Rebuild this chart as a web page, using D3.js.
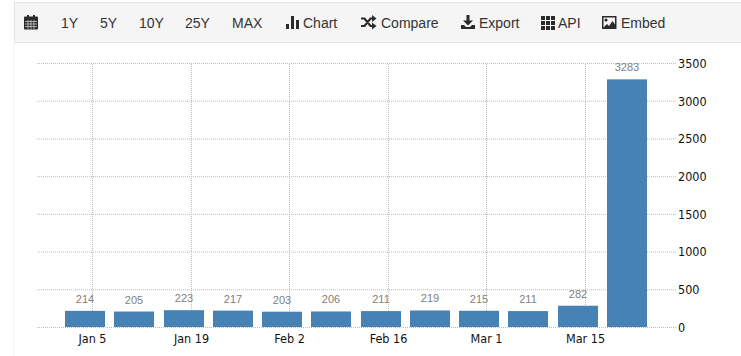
<!DOCTYPE html>
<html>
<head>
<meta charset="utf-8">
<style>
html, body { margin: 0; padding: 0; background: #fff; overflow: hidden; }
svg { display: block; }
text { font-family: "Liberation Sans", Arial, sans-serif; }
.menu text { font-size: 14px; fill: #333; }
.axis text { font-size: 12.5px; fill: #111; font-family: "DejaVu Sans Condensed", "Liberation Sans", sans-serif; }
.axis path { display: none; }
.axis line { stroke: #bdbdbd; stroke-dasharray: 1 1; }
.bar { fill: #4682b4; }
.value { font-size: 11px; fill: #808080; text-anchor: middle; }
</style>
</head>
<body>
<svg id="chart" width="741" height="356"></svg>
<script src="https://d3js.org/d3.v7.min.js"></script>
<script>
let dates = ["2020-01-04", "2020-01-11", "2020-01-18", "2020-01-25", "2020-02-01", "2020-02-08",
    "2020-02-15", "2020-02-22", "2020-02-29", "2020-03-07", "2020-03-14", "2020-03-21"];
let values = [214, 205, 223, 217, 203, 206, 211, 219, 215, 211, 282, 3283];
let xTicks = ["2020-01-05", "2020-01-19", "2020-02-02", "2020-02-16", "2020-03-01", "2020-03-15"];
let yTicks = [0, 500, 1000, 1500, 2000, 2500, 3000, 3500];
let menuLabels = ["1Y", "5Y", "10Y", "25Y", "MAX", "Chart", "Compare", "Export", "API", "Embed"];
let menuX = [61, 100, 139, 185, 232, 303, 381, 479, 558, 621];

let parse = d3.utcParse("%Y-%m-%d");
let svg = d3.select("#chart");

// page edge and toolbar
svg.append("line").attr("x1", 13.5).attr("x2", 13.5).attr("y1", 43).attr("y2", 356).attr("stroke", "#f4f4f4");
svg.append("rect").attr("x", 14.5).attr("y", 2.5).attr("width", 730).attr("height", 40)
    .attr("fill", "#f5f5f5").attr("stroke", "#e3e3e3");

let menu = svg.append("g").attr("class", "menu");
menu.selectAll("text")
    .data(menuLabels)
    .join("text")
    .attr("x", (d, i) => menuX[i])
    .attr("y", 28)
    .text(d => d);

// toolbar icons
let ink = "#2b2b2b";
let calendar = menu.append("g").attr("transform", "translate(24,15)");
calendar.append("rect").attr("y", 1.5).attr("width", 14).attr("height", 13).attr("rx", 1).attr("fill", ink);
calendar.append("rect").attr("x", 3).attr("width", 2).attr("height", 3).attr("fill", ink);
calendar.append("rect").attr("x", 9).attr("width", 2).attr("height", 3).attr("fill", ink);
calendar.append("path").attr("d", "M1 6.5H13M1 9H13M1 11.5H13M4 5V14M7 5V14M10 5V14").attr("stroke", "#d8d8d8").attr("stroke-width", 0.7);

let bars = menu.append("g").attr("transform", "translate(286,16)");
bars.append("path").attr("d", "M0 8h3v5H0zM5 0h3v13H5zM10 4h3v9h-3z").attr("fill", ink);

let shuffle = menu.append("g").attr("transform", "translate(361,16)");
shuffle.append("path")
    .attr("d", "M0 2.5h3.5l6 7.5h2M0 10h3.5l6-7.5h2")
    .attr("fill", "none").attr("stroke", ink).attr("stroke-width", 2.2);
shuffle.append("path").attr("d", "M11 -1l4.5 3.5L11 6zM11 6.5l4.5 3.5L11 13.5z").attr("fill", ink);

let download = menu.append("g").attr("transform", "translate(461,15)");
download.append("path").attr("d", "M5.5 0h3v5.5h3.5L7 10.5 2 5.5h3.5z").attr("fill", ink);
download.append("path").attr("d", "M0 10h3l2 2h4l2-2h3v4H0z").attr("fill", ink);

let grid = menu.append("g").attr("transform", "translate(541,16)");
grid.selectAll("rect")
    .data(d3.range(9))
    .join("rect")
    .attr("x", d => (d % 3) * 5)
    .attr("y", d => Math.floor(d / 3) * 5)
    .attr("width", 4)
    .attr("height", 4)
    .attr("fill", ink);

let image = menu.append("g").attr("transform", "translate(602,16)");
image.append("rect").attr("x", 0.75).attr("y", 0.75).attr("width", 13).attr("height", 11.5).attr("fill", "none").attr("stroke", ink).attr("stroke-width", 1.5);
image.append("circle").attr("cx", 4).attr("cy", 4).attr("r", 1.6).attr("fill", ink);
image.append("path").attr("d", "M1 12l4-4 2 2 3.5-5 3 4v3z").attr("fill", ink);

// scales
let xScale = d3.scaleUtc()
    .domain([parse("2019-12-28"), parse("2020-03-28")])
    .rangeRound([36, 676]);
let yScale = d3.scaleLinear()
    .domain([0, 3500])
    .range([327, 63]);

// x axis with vertical grid
let xAxis = svg.append("g")
    .attr("class", "axis")
    .attr("transform", "translate(0,327)")
    .call(d3.axisBottom(xScale)
        .tickValues(xTicks.map(parse))
        .tickFormat(d3.utcFormat("%b %-d"))
        .tickSize(-264)
        .tickPadding(5));
xAxis.selectAll("text").attr("dy", "0.85em");

// y axis with horizontal grid
svg.append("g")
    .attr("class", "axis")
    .attr("transform", "translate(676,0)")
    .call(d3.axisLeft(yScale)
        .tickValues(yTicks)
        .tickFormat(d3.format("d"))
        .tickSize(640))
    .selectAll("text")
    .attr("text-anchor", "start")
    .attr("x", 2)
    .attr("dy", "0.35em");

// bars
let barWidth = 40;
svg.selectAll(".bar")
    .data(values)
    .join("rect")
    .attr("class", "bar")
    .attr("x", (d, i) => xScale(parse(dates[i])) - barWidth / 2)
    .attr("y", d => yScale(d))
    .attr("width", barWidth)
    .attr("height", d => yScale(0) - yScale(d));

// value labels
svg.selectAll(".value")
    .data(values)
    .join("text")
    .attr("class", "value")
    .attr("x", (d, i) => xScale(parse(dates[i])))
    .attr("y", d => yScale(d) - 8)
    .text(d => d);
</script>
</body>
</html>
